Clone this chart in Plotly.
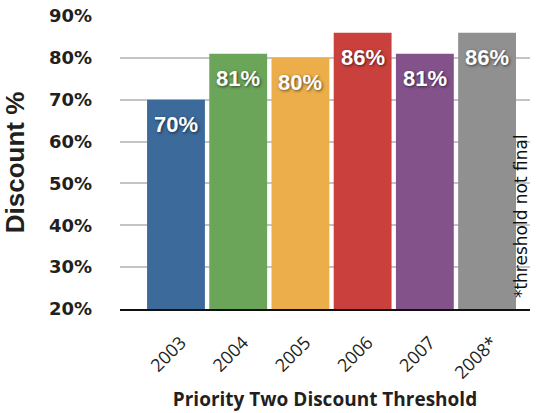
import plotly.graph_objects as go

years = ["2003", "2004", "2005", "2006", "2007", "2008*"]
discount = [70, 81, 80, 86, 81, 86]
labels = ["70%", "81%", "80%", "86%", "81%", "86%"]
colors = ["#3B6A9B", "#6BA55A", "#ECAE4A", "#CA403D", "#83528B", "#8F908F"]
y_ticks = [20, 30, 40, 50, 60, 70, 80, 90]
y_tick_text = ["20%", "30%", "40%", "50%", "60%", "70%", "80%", "90%"]

fig = go.Figure(go.Bar(
    x=years, y=discount,
    marker=dict(color=colors, line=dict(width=0)),
    hoverinfo="skip",
))

for i, (v, lab) in enumerate(zip(discount, labels)):
    fig.add_annotation(
        x=i, y=v, xref="x", yref="y", text=lab, showarrow=False,
        yanchor="middle", yshift=-25,
        font=dict(family="Liberation Sans", size=22, color="white",
                  weight="bold", shadow="1px 1px 3px rgba(0,0,0,0.6)"),
    )

fig.update_layout(
    width=539, height=413,
    margin=dict(l=120, r=9, t=16, b=104),
    plot_bgcolor="white", paper_bgcolor="white",
    bargap=0.07, showlegend=False,
)
fig.update_yaxes(
    range=[20, 90], tickvals=y_ticks, ticktext=y_tick_text, automargin=False,
    showgrid=True, gridcolor="#C4C4C4", gridwidth=1.5,
    zeroline=False, showline=False, ticks="", ticklabelstandoff=27,
    tickfont=dict(family="DejaVu Sans", size=18, color="#231F20", weight="bold"),
    title=dict(text="Discount %", standoff=18,
               font=dict(family="Liberation Sans", size=26, color="#231F20", weight="bold")),
)
fig.update_xaxes(
    range=[-0.9, 5.69], tickangle=-45, ticks="", ticklabelstandoff=14, ticklabelshift=5,
    automargin=False,
    showline=True, linecolor="#111111", linewidth=2,
    tickfont=dict(family="Open Sans", size=18, color="#231F20"),
    title=dict(text="Priority Two Discount Threshold", standoff=10,
               font=dict(family="Open Sans", size=19, color="#231F20", weight="bold")),
)
fig.add_annotation(
    x=1.0, xref="paper", xanchor="right", xshift=3,
    y=0.317, yref="paper", yanchor="middle", text="*threshold not final", textangle=-90,
    showarrow=False, font=dict(family="DejaVu Sans", size=17, color="#111111"),
)
fig.write_html("out.html")
